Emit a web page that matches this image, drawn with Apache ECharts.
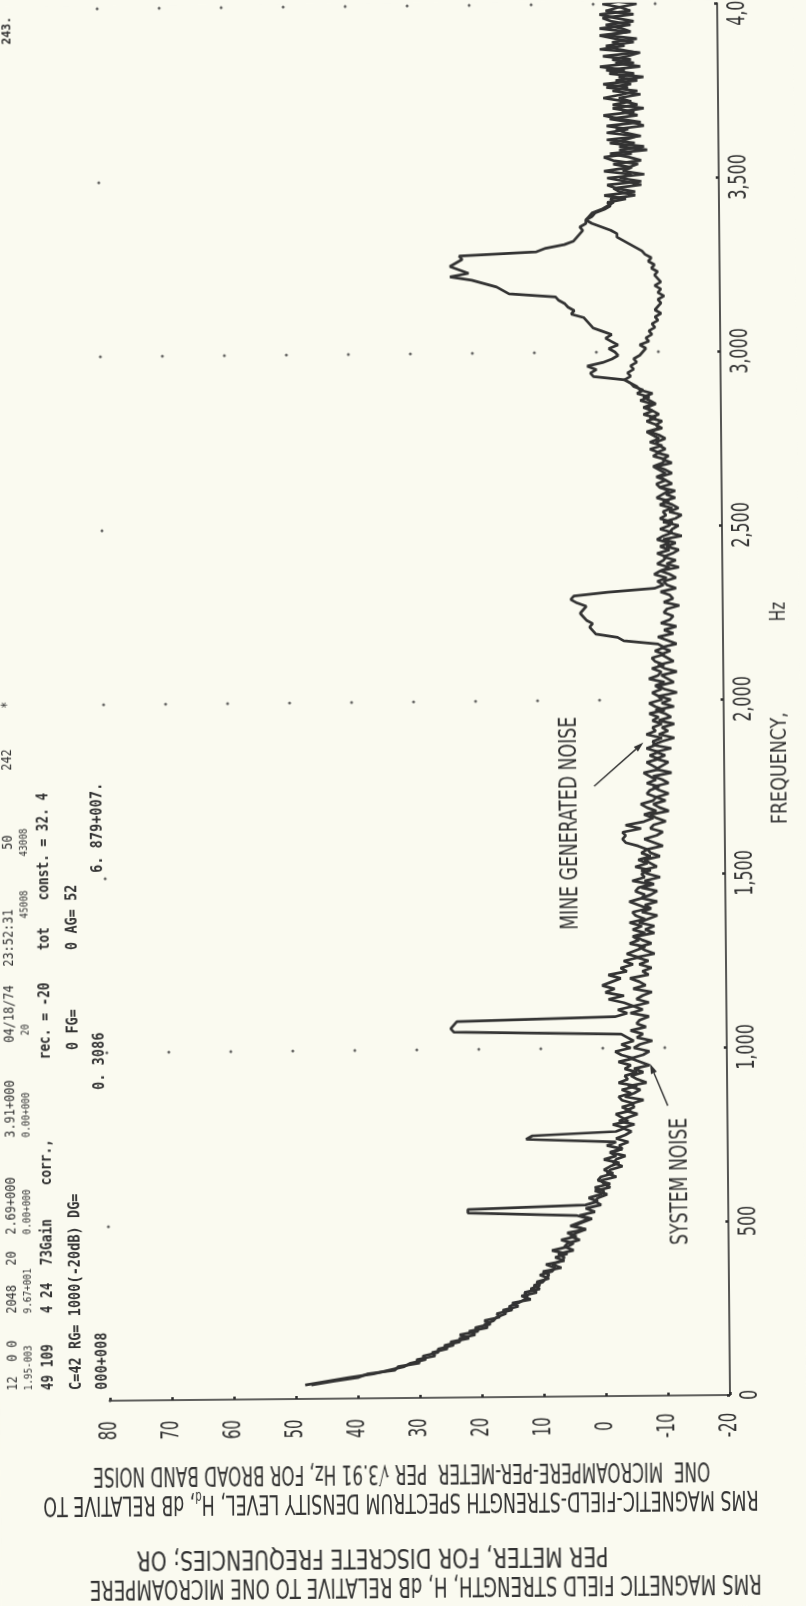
<!DOCTYPE html>
<html>
<head>
<meta charset="utf-8">
<script src="https://cdn.jsdelivr.net/npm/echarts@6/dist/echarts.min.js"></script>
<style>
  html, body { margin: 0; padding: 0; background: #fafaf0; }
  #chart {
    width: 806px; height: 1606px;
    transform: rotate(-0.53deg);
    transform-origin: 730px 1395px;
  }
</style>
</head>
<body>
<div id="chart"></div>
<script>
// Spectrum samples: one value every FREQ_STEP_HZ starting at FREQ_START_HZ (10 values = 100 Hz per row).
const FREQ_START_HZ = 40;
const FREQ_STEP_HZ = 10;

// System noise, dB
const systemNoiseDb = [
  48.5, 45, 41.5, 37.5, 35, 32.5, 31.5, 29, 29.5, 27,
  27, 24.5, 25, 22, 23.5, 20.5, 21, 18.5, 19.5, 17,
  17.5, 15, 15.5, 14, 13, 12.5, 13, 10.5, 11.5, 10,
  9.5, 9, 10, 7, 8.5, 7, 6.5, 7.5, 5, 6.5,
  6, 4, 5.5, 4.5, 3, 5, 3.5, 2, 4, 1.5,
  3, 0.5, 1.5, 1, -0.5, 1.5, -1, 0, 0.5, -2,
  -0.5, -1, -3, -1.5, -2, -3.5, -1, -3, -2.5, -4,
  -2, -3.5, -4.5, -3, -5, -2.5, -4, -5.5, -3.5, -5,
  -4.5, -6.5, -3.5, -5, -6, -4, -7, -5.5, -4.5, -6.5,
  -5, -7.5, -6, -4.5, -6.5, -7.5, -5, -6, -8, -5.5,
  -6.5, -4.5, -7, -5.5, -6, -7.5, -4.5, -6.5, -5, -7.5,
  -5.5, -6.5, -8, -5, -7, -6, -4.5, -7.5, -6.5, -8,
  -6, -7.5, -5.5, -8.5, -7, -6, -8, -6.5, -5.5, -8.5,
  -7, -8.5, -6, -7.5, -9, -6.5, -8, -7, -9, -6.5,
  -8, -9, -6.5, -8.5, -7, -9.5, -7.5, -6.5, -9, -8,
  -7, -9.5, -8, -7.5, -10, -8.5, -7, -9, -10, -8,
  -8.5, -10.5, -9, -8, -11, -9.5, -8.5, -10.5, -9, -11,
  -9.5, -8.5, -11, -10, -8.5, -11.5, -9, -10, -11, -9,
  -10.5, -9, -11.5, -8.5, -10, -12, -9.5, -11, -10, -12,
  -9.5, -11.5, -10.5, -9, -12, -10, -11.5, -9.5, -12.5, -10.5,
  -9.5, -12, -11, -10, -12.5, -10.5, -9.5, -12, -11, -10,
  -11.5, -10, -12.5, -11, -9.5, -12, -10.5, -12.5, -10, -11.5,
  -12, -10.5, -11, -13, -10.5, -12, -11.5, -10, -12.5, -11,
  -10.5, -12.5, -11.5, -10, -13, -11, -12.5, -10.5, -12, -13,
  -11, -12.5, -10.5, -13.5, -11.5, -12, -13, -10.5, -12.5, -13.5,
  -11.5, -13, -12, -10.5, -12.5, -11, -12.5, -10, -12, -11,
  -10, -12, -11, -9.5, -12, -10.5, -11.5, -9.5, -11, -10,
  -9.5, -11, -10, -8.5, -10.5, -9.5, -10.5, -8.5, -10, -9,
  -8, -9.5, -8.5, -7.5, -9, -7, -6.5, -5.5, -4.5, -5.5,
  -5, -6, -5.5, -6.5, -6, -7, -7.5, -8, -7, -8.5,
  -8, -9, -8.5, -9.5, -9, -10, -9.5, -10.5, -9.5, -10,
  -10.5, -10, -11, -10, -10.5, -9.5, -10.5, -10, -9.5, -10,
  -9, -9.5, -8.5, -9, -8, -7.5, -6.5, -5.5, -4.5, -3.5,
  -3.5, -2.5, -1, 0.5, 1.5, 1, 0.5, -1, -2, -3,
  -2.5, -6.5, -4, -3, -7.5, -5, -2, -8, -4.5, -6,
  -3, -7.5, -5.5, -2.5, -8.5, -4, -6.5, -2, -7.5, -5,
  -3.5, -8, -6, -2.5, -7, -4.5, -8, -3, -6, -4,
  -7.5, -3, -5.5, -1.5, -7, -4, -6.5, -2, -7.5, -3.5,
  -6, -1.5, -7, -4, -2, -6.5, -3.5, -1, -6, -4.5,
  -2, -6.5, -3.5, -1, -6, -4.5, -1.5, -5.5, -3, -6.5
];

// Mine generated noise, dB
const mineNoiseDb = [
  47.5, 44, 40, 38.5, 34, 33.5, 30, 30.5, 27.5, 28,
  25.5, 26, 23.5, 23.5, 21, 22, 19, 19.5, 18, 17.5,
  16, 16.5, 14, 15, 12, 13.5, 11, 12, 10.5, 11,
  9, 10.5, 8.5, 8, 9.5, 6.5, 8, 6, 8.5, 6,
  5, 7, 4.5, 6, 3, 5.5, 4, 2.5, 4.5, 22,
  22, 3, 1, 2.5, 0.5, 0, 1.5, -1, 1, 0.5,
  -1.5, 0, -1, -2.5, 0, -2, -1, -3, -0.5, -2,
  12.5, 11.5, -2, -3.5, -1.5, -4, -3, -2, -4.5, -3,
  -5, -3, -2.5, -4.5, -3, -5.5, -2.5, -4, -3.5, -5.5,
  -3.5, -4.5, -2.5, -5, -3, -2, -4.5, -3, -5, -4,
  -3, 24, 24.5, 24, 23.5, -2, -4, -2.5, -5, -3.5,
  -1, -3.5, -0.5, -2, 0, -1.5, -3, -1, -4, -3,
  -5, -3.5, -6, -4, -5.5, -7, -4.5, -6, -5, -7,
  -5, -6.5, -4.5, -7, -5.5, -5, -7.5, -6, -4.5, -6.5,
  -7, -5.5, -6, -8, -5, -7, -6.5, -8, -5.5, -7.5,
  -6, -8, -6.5, -7.5, -6, -4, -3.5, -4, -3.5, -6.5,
  -4, -7, -8.5, -7, -9, -7.5, -6.5, -8.5, -9, -7.5,
  -8, -9.5, -7.5, -9, -8, -7, -9.5, -8.5, -7.5, -9.5,
  -8, -9.5, -7.5, -9, -8.5, -10, -7.5, -9, -8.5, -10,
  -8.5, -9.5, -8, -10.5, -9, -8, -10, -9.5, -8.5, -10,
  -9, -10.5, -8, -9.5, -10, -8.5, -10.5, -9, -8.5, -10.5,
  -9, -10.5, -9.5, -4, -3, 0.5, 1, 1.5, 1, 2,
  2.5, 3, 2.5, 2, 3.5, 4.5, 4, -1.5, -9, -10.5,
  -9.5, -11, -9, -10, -11.5, -9.5, -10.5, -11, -9.5, -11.5,
  -10, -11.5, -9.5, -10.5, -12, -10, -11.5, -12, -10, -11,
  -10.5, -12, -10, -11.5, -9.5, -10.5, -11.5, -10, -9.5, -11,
  -9.5, -11, -10, -9, -10.5, -11, -9, -10, -8.5, -10.5,
  -8.5, -10, -9, -8, -10, -9.5, -8, -9.5, -7.5, -9,
  -7.5, -9, -7, -8.5, -6.5, -7.5, -6, -5.5, -4.5, 0.5,
  1, 0, 1.5, -1, -2.5, -3.5, -3, -2, -3.5, -2.5,
  -1.5, -2.5, -1, 0.5, 1, 1.5, 2, 4, 3.5, 4.5,
  5, 6, 6.5, 14, 15, 16, 18, 20, 23.5, 20.5,
  22, 23.5, 22.5, 21.5, 22, 9.5, 8, 5, 3.5, 3,
  2.5, 2, 2.5, 1.5, 1.5, 0.5, 0, -1.5, -2.5, -2,
  -5, -1.5, -6.5, -3.5, -2, -7.5, -4, -6, -1.5, -5.5,
  -7, -3, -1.5, -6, -4, -8, -2.5, -5, -7, -2,
  -5.5, -2, -7.5, -4, -1.5, -6.5, -3, -7, -5, -1.5,
  -4.5, -7, -2, -6, -3.5, -8, -2.5, -5, -1, -6.5,
  -3, -5.5, -7.5, -1, -5, -3, -7, -2, -5.5, -1,
  -6, -3, -1.5, -6.5, -2, -4, -7, -2.5, -1, -5
];

// Axes
const dbTicks = [80, 70, 60, 50, 40, 30, 20, 10, 0, -10, -20];
const dbTickLabels = ['80', '70', '60', '50', '40', '30', '20', '10', '0', '-10', '-20'];
const freqTicks = [0, 500, 1000, 1500, 2000, 2500, 3000, 3500, 4000];
const freqTickLabels = ['0', '500', '1,000', '1,500', '2,000', '2,500', '3,000', '3,500', '4,000'];

// Plotter reference dots: full rows every 1000 Hz, plus the 80 dB edge at each frequency tick
const dotRowFreqs = [1000, 2000, 3000, 4000];
const dotRowDb = [80, 70, 60, 50, 40, 30, 20, 10, 0, -10];

// Annotations (dB, Hz)
const mineLabel = { text: 'MINE GENERATED NOISE', at: [4.8, 1647], len: 213, tail: [1.0, 1753], head: [-7.0, 1877] };
const systemLabel = { text: 'SYSTEM NOISE', at: [-12.4, 615], len: 127, tail: [-10.4, 833], head: [-7.6, 954] };

// Plot header printed by the analyser (one column per line, read upward)
const headerLines = [
  { x: 13, y: 1384, size: 14, weight: 'normal', parts: [['12', 0], ['0', 29], ['0', 43], ['2048', 77], ['20', 125], ['2.69+000', 156], ['3.91+000', 253], ['04/18/74', 348], ['23:52:31', 424], ['50', 541], ['242', 620], ['*', 682]] },
  { x: 29, y: 1384, size: 11, weight: 'normal', parts: [['1.95-003', 0], ['9.67+001', 77], ['0.00+000', 156], ['0.00+000', 253], ['20', 355], ['45008', 472], ['43008', 534]] },
  { x: 49, y: 1384, size: 15, weight: 'bold', parts: [['49 109', 0], ['4 24', 77], ['73Gain', 125], ['corr.,', 205], ['rec. = -20', 331], ['tot', 440], ['const. = 32. 4', 490]] },
  { x: 77, y: 1384, size: 16, weight: 'bold', parts: [['C=42 RG= 1000(-20dB) DG=', 0], ['0 FG=', 340], ['0 AG= 52', 440]] },
  { x: 103, y: 1384, size: 16, weight: 'bold', parts: [['000+008', 0], ['0. 3086', 300], ['6. 879+007.', 517]] }
];

const yTitleLines = [
  { text: 'RMS MAGNETIC FIELD STRENGTH, H, dB RELATIVE TO ONE MICROAMPERE', cx: 424, cy: 1582, len: 672 },
  { text: 'PER METER, FOR DISCRETE FREQUENCIES; OR', cx: 371, cy: 1553, len: 472 },
  { text: 'RMS MAGNETIC-FIELD-STRENGTH SPECTRUM DENSITY LEVEL, H{sub|d}, dB RELATIVE TO', plain: 'RMS MAGNETIC-FIELD-STRENGTH SPECTRUM DENSITY LEVEL, Hd, dB RELATIVE TO', cx: 400, cy: 1498, len: 720 },
  { text: 'ONE  MICROAMPERE-PER-METER  PER \u221A3.91 Hz, FOR BROAD BAND NOISE', cx: 401, cy: 1469, len: 617 }
];

const INK = '#333333';
const LETTER_FONT = '"Liberation Sans Narrow", "DejaVu Sans Condensed", sans-serif';
const MONO_FONT = '"DejaVu Sans Mono", "Liberation Mono", monospace';

const measureCtx = document.createElement('canvas').getContext('2d');
function textWidth(str, font) { measureCtx.font = font; return measureCtx.measureText(str).width; }

// Lettered text: rotation in radians (CCW), optional target length along the baseline
function lettering(str, x, y, opts) {
  const size = opts.size || 24;
  const font = (opts.weight ? opts.weight + ' ' : '') + size + 'px ' + (opts.family || LETTER_FONT);
  const w = textWidth(opts.plain || str, font);
  const sx = opts.len ? opts.len / w : (opts.sx || 1);
  const style = {
    text: str, font: font, fill: opts.fill || INK,
    align: opts.align || 'center', verticalAlign: opts.vAlign || 'middle'
  };
  if (opts.rich) style.rich = opts.rich;
  return { type: 'text', x: x, y: y, rotation: opts.rot || 0, scaleX: sx, scaleY: 1, silent: true, style: style };
}

const chart = echarts.init(document.getElementById('chart'), null, { renderer: 'canvas' });

const toPoints = arr => arr.map((v, i) => [v, FREQ_START_HZ + i * FREQ_STEP_HZ]);
const dots = freqTicks.map(f => [80, f]);
dotRowFreqs.forEach(f => dotRowDb.forEach(d => { if (d !== 80) dots.push([d, f]); }));

const axisLineStyle = { color: '#2e2e2e', width: 1.6 };

chart.setOption({
  backgroundColor: '#fafaf0',
  animation: false,
  grid: { left: 110, right: 76, top: 3, bottom: 211 },
  xAxis: {
    type: 'value', min: -20, max: 80, interval: 10, inverse: true, position: 'bottom',
    axisLine: { onZero: false, lineStyle: axisLineStyle },
    axisTick: { inside: true, length: 3, lineStyle: { color: '#2e2e2e', width: 2.5 } },
    axisLabel: { show: false }, splitLine: { show: false }
  },
  yAxis: {
    type: 'value', min: 0, max: 4000, interval: 500, position: 'right',
    axisLine: { onZero: false, lineStyle: axisLineStyle },
    axisTick: { inside: true, length: 3, lineStyle: { color: '#2e2e2e', width: 2.5 } },
    axisLabel: { show: false }, splitLine: { show: false }
  },
  series: [
    {
      name: 'System noise', type: 'line', data: toPoints(systemNoiseDb),
      showSymbol: false, clip: true,
      lineStyle: { color: INK, width: 2.7 }
    },
    {
      name: 'Mine generated noise', type: 'line', data: toPoints(mineNoiseDb),
      showSymbol: false, clip: true,
      lineStyle: { color: INK, width: 2.7 }
    },
    {
      name: 'Reference dots', type: 'scatter', data: dots,
      symbol: 'circle', symbolSize: 3, itemStyle: { color: '#444' }, clip: false
    }
  ]
});

const px = (db, f) => chart.convertToPixel({ xAxisIndex: 0, yAxisIndex: 0 }, [db, f]);
const graphics = [];
const UP = Math.PI / 2;

// Frequency tick labels
const freqAxisX = px(-20, 0)[0];
freqTicks.forEach((f, i) => {
  const p = px(-20, f);
  graphics.push(lettering(freqTickLabels[i], freqAxisX + 21, p[1], { size: 24, rot: UP, sx: 0.74 }));
});
// dB tick labels
const dbAxisY = px(0, 0)[1];
dbTicks.forEach((d, i) => {
  const p = px(d, 0);
  graphics.push(lettering(dbTickLabels[i], p[0], dbAxisY + 30, { size: 24, rot: UP, sx: 0.7 }));
});

// Frequency axis title
graphics.push(lettering('FREQUENCY,', freqAxisX + 57, px(-20, 1800)[1], { size: 21, rot: UP, len: 112 }));
graphics.push(lettering('Hz', freqAxisX + 57, px(-20, 2250)[1], { size: 21, rot: UP, sx: 0.8 }));

// dB axis title block (upside down)
yTitleLines.forEach(l => {
  graphics.push(lettering(l.text, l.cx, l.cy, {
    size: 26, rot: Math.PI, len: l.len, plain: l.plain,
    rich: { sub: { font: '15px ' + LETTER_FONT, fill: INK, verticalAlign: 'bottom', padding: [14, 0, 0, 0] } }
  }));
});

// Annotations with arrows
function arrow(tail, head) {
  const a = px(tail[0], tail[1]);
  const b = px(head[0], head[1]);
  const ang = Math.atan2(b[1] - a[1], b[0] - a[0]);
  const L = 10, W = 3.2;
  const bx = b[0] - L * Math.cos(ang), by = b[1] - L * Math.sin(ang);
  graphics.push({ type: 'polyline', silent: true, shape: { points: [a, [bx, by]] }, style: { stroke: INK, lineWidth: 1.4, fill: null } });
  graphics.push({ type: 'polygon', silent: true, shape: { points: [b,
    [bx + W * Math.sin(ang), by - W * Math.cos(ang)],
    [bx - W * Math.sin(ang), by + W * Math.cos(ang)]] }, style: { fill: INK } });
}
[mineLabel, systemLabel].forEach(l => {
  const p = px(l.at[0], l.at[1]);
  graphics.push(lettering(l.text, p[0], p[1], { size: 24, rot: UP, len: l.len }));
  arrow(l.tail, l.head);
});

// Header block
headerLines.forEach(line => {
  line.parts.forEach(([str, off]) => {
    graphics.push(lettering(str, line.x, line.y - off, { size: line.size, weight: line.weight, family: MONO_FONT, rot: UP, align: 'left', sx: 0.85 }));
  });
});

// Page number
graphics.push(lettering('243.', 20, 24, { size: 13, family: MONO_FONT, weight: 'bold', rot: UP, sx: 0.9 }));

chart.setOption({ graphic: { elements: graphics } });
</script>
</body>
</html>
